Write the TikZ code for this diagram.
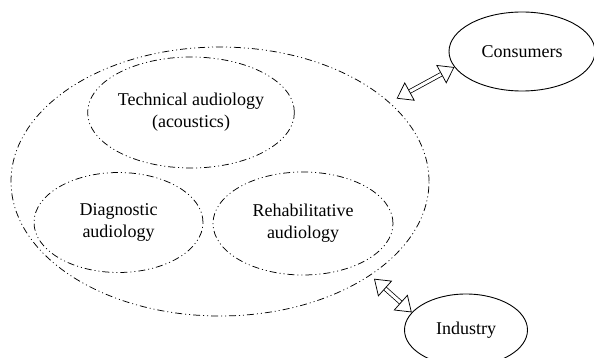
\documentclass[tikz,border=0pt]{standalone}
\usepackage{fontspec}
\setmainfont{Liberation Serif}
\usetikzlibrary{shapes.geometric,arrows.meta}
\tikzset{
  dashell/.style={ellipse, draw, line width=0.75pt, inner sep=0pt, align=center,
    dash pattern=on 7pt off 3pt on 1pt off 3pt on 1pt off 3pt},
  solidell/.style={ellipse, draw, line width=0.9pt, inner sep=0pt, align=center},
  fatarrow/.style={double, line width=0.75pt, double distance=3pt,
    {Triangle[open, length=15pt, width=21pt]}-{Triangle[open, length=15pt, width=21pt]}}
}
\begin{document}
\begin{tikzpicture}[x=1pt, y=-1pt, font=\fontsize{18}{22}\selectfont]
\useasboundingbox (0,0) rectangle (594,358);
\node[dashell, minimum width=418pt, minimum height=269pt] (big) at (220,181.5) {};
\node[dashell, minimum width=202pt, minimum height=111pt] (tech) at (191,112.5) {Technical audiology\\(acoustics)};
\node[dashell, minimum width=169pt, minimum height=100pt] (diag) at (118.5,222.5) {Diagnostic\\audiology};
\node[dashell, minimum width=180pt, minimum height=103pt] (rehab) at (303,223.5) {Rehabilitative\\audiology};
\node[solidell, minimum width=146pt, minimum height=79pt] (cons) at (522,51.5) {Consumers};
\node[solidell, minimum width=123pt, minimum height=72pt] (ind) at (466,330) {Industry};
\draw[fatarrow, shorten <=8pt] (big.25) -- (cons.193);
\draw[fatarrow, shorten <=5pt] (big.-32) -- (ind.162);
\end{tikzpicture}
\end{document}
